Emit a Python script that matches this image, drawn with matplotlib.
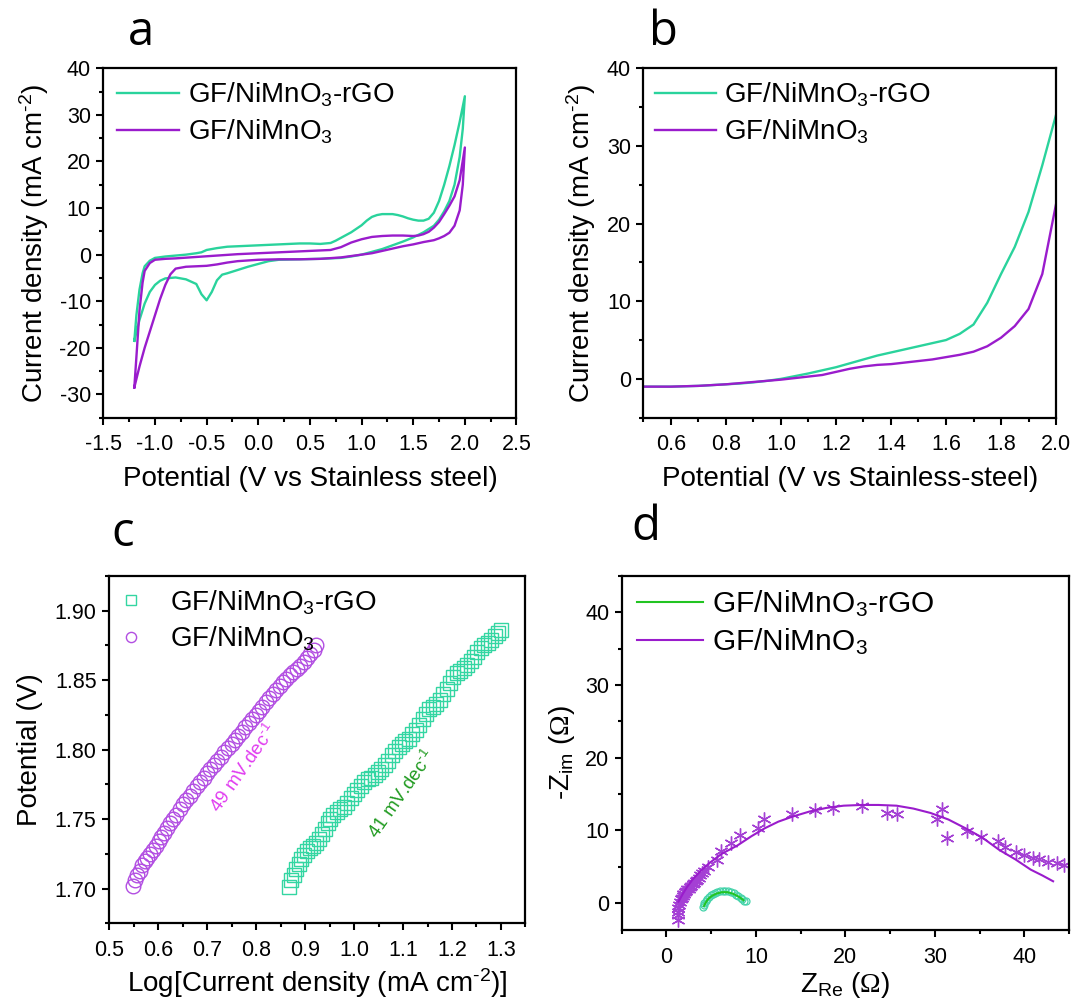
import numpy as np
import matplotlib
matplotlib.use("Agg")
import matplotlib.pyplot as plt
from matplotlib.ticker import MultipleLocator, AutoMinorLocator, FormatStrFormatter

plt.rcParams['font.family'] = ['Liberation Sans', 'DejaVu Sans']
plt.rcParams['mathtext.fontset'] = 'custom'
plt.rcParams['mathtext.rm'] = 'Liberation Sans'
plt.rcParams['mathtext.sf'] = 'Liberation Serif'
plt.rcParams['mathtext.default'] = 'regular'
plt.rcParams['axes.unicode_minus'] = False

lab_rgo = 'GF/NiMnO$_3$-rGO'
lab_nmo = 'GF/NiMnO$_3$'
cm2 = 'cm$^{\\text{-2}}$'

# (a) CV loops: anodic sweep then cathodic return
cv_rgo_x = [-1.20, -1.18, -1.15, -1.12, -1.10, -1.05, -1.00, -0.90, -0.80, -0.70, -0.60, -0.55,
            -0.50, -0.40, -0.30, -0.20, -0.10, 0.00, 0.10, 0.20, 0.30, 0.40, 0.50, 0.60, 0.70,
            0.75, 0.80, 0.90, 1.00, 1.05, 1.10, 1.15, 1.20, 1.25, 1.30, 1.35, 1.40, 1.45, 1.50,
            1.55, 1.60, 1.65, 1.70, 1.75, 1.80, 1.85, 1.90, 1.95, 2.00,
            1.98, 1.95, 1.90, 1.85, 1.80, 1.75, 1.70, 1.60, 1.50, 1.40, 1.30, 1.20, 1.10, 1.00,
            0.90, 0.80, 0.60, 0.40, 0.20, 0.10, 0.00, -0.10, -0.20, -0.30, -0.35, -0.40, -0.45,
            -0.50, -0.55, -0.60, -0.70, -0.80, -0.90, -0.95, -1.00, -1.05, -1.10, -1.15, -1.20]
cv_rgo_y = [-18.5, -13.0, -7.5, -4.0, -2.5, -1.3, -0.7, -0.4, -0.2, 0.0, 0.3, 0.5,
            1.0, 1.4, 1.7, 1.8, 1.9, 2.0, 2.1, 2.2, 2.3, 2.4, 2.4, 2.3, 2.5,
            3.0, 3.6, 4.8, 6.3, 7.3, 8.1, 8.5, 8.7, 8.7, 8.7, 8.5, 8.2, 7.8, 7.5,
            7.3, 7.3, 7.7, 9.0, 11.5, 15.0, 19.0, 23.5, 28.5, 34.0,
            27.0, 21.0, 15.0, 11.5, 9.3, 7.5, 6.2, 4.8, 3.7, 2.8, 2.0, 1.2, 0.6, 0.0,
            -0.4, -0.7, -0.9, -1.0, -1.1, -1.4, -2.0, -2.6, -3.3, -4.0, -4.3, -5.5, -8.0,
            -9.8, -8.5, -6.3, -5.3, -4.9, -5.1, -5.6, -6.5, -8.0, -10.5, -14.0, -18.5]

cv_nmo_x = [-1.20, -1.18, -1.15, -1.12, -1.10, -1.05, -1.00, -0.90, -0.80, -0.60, -0.40, -0.20,
            0.00, 0.20, 0.40, 0.60, 0.70, 0.80, 0.90, 1.00, 1.10, 1.20, 1.30, 1.40, 1.50, 1.55,
            1.60, 1.65, 1.70, 1.75, 1.80, 1.85, 1.90, 1.95, 2.00,
            1.98, 1.95, 1.90, 1.85, 1.80, 1.75, 1.70, 1.60, 1.50, 1.40, 1.30, 1.20, 1.10, 1.00,
            0.80, 0.60, 0.40, 0.20, 0.00, -0.20, -0.30, -0.40, -0.50, -0.60, -0.70, -0.80,
            -0.85, -0.90, -0.95, -1.00, -1.05, -1.10, -1.15, -1.20]
cv_nmo_y = [-28.5, -22.0, -12.0, -6.0, -3.5, -1.8, -1.1, -0.9, -0.8, -0.5, -0.2, 0.1,
            0.3, 0.5, 0.7, 0.9, 1.0, 1.6, 2.6, 3.3, 3.8, 4.0, 4.1, 4.1, 4.0, 4.1,
            4.4, 4.9, 5.8, 7.0, 8.7, 10.5, 12.5, 16.0, 23.0,
            15.0, 9.5, 6.2, 4.7, 4.0, 3.5, 3.1, 2.7, 2.2, 1.8, 1.3, 0.8, 0.3, 0.0,
            -0.6, -0.9, -1.0, -1.0, -1.1, -1.4, -1.7, -2.1, -2.4, -2.5, -2.6, -3.0,
            -4.2, -6.5, -9.5, -13.0, -16.5, -20.0, -24.0, -28.5]

# (b) LSV
lsv_x = [0.50, 0.55, 0.60, 0.65, 0.70, 0.75, 0.80, 0.85, 0.90, 0.95, 1.00, 1.05, 1.10, 1.15,
         1.20, 1.25, 1.30, 1.35, 1.40, 1.45, 1.50, 1.55, 1.60, 1.65, 1.70, 1.75, 1.80, 1.85,
         1.90, 1.95, 2.00]
lsv_rgo = [-1.0, -1.0, -1.0, -0.95, -0.9, -0.8, -0.7, -0.6, -0.45, -0.25, 0.0, 0.35, 0.7, 1.1,
           1.5, 2.0, 2.5, 3.0, 3.4, 3.8, 4.2, 4.6, 5.0, 5.8, 7.0, 9.8, 13.5, 17.0,
           21.5, 27.5, 34.0]
lsv_nmo = [-1.0, -1.0, -1.0, -0.95, -0.9, -0.8, -0.7, -0.55, -0.4, -0.25, -0.1, 0.1, 0.3, 0.5,
           0.9, 1.3, 1.6, 1.8, 1.9, 2.1, 2.3, 2.5, 2.8, 3.1, 3.5, 4.2, 5.3, 6.8,
           9.0, 13.5, 22.5]

# (c) Tafel
tafel_nmo_x = [0.548, 0.553, 0.558, 0.563, 0.568, 0.573, 0.578, 0.583, 0.589, 0.595, 0.601,
               0.607, 0.613, 0.619, 0.625, 0.631, 0.637, 0.644, 0.651, 0.658, 0.665, 0.672,
               0.679, 0.686, 0.693, 0.700, 0.707, 0.714, 0.721, 0.728, 0.735, 0.743, 0.750,
               0.757, 0.764, 0.771, 0.778, 0.785, 0.792, 0.799, 0.806, 0.813, 0.820, 0.827,
               0.834, 0.841, 0.848, 0.855, 0.862, 0.869, 0.876, 0.883, 0.890, 0.897, 0.904,
               0.911, 0.918, 0.922]
tafel_nmo_y = [1.702, 1.706, 1.710, 1.713, 1.717, 1.720, 1.722, 1.725, 1.728, 1.731, 1.734,
               1.737, 1.740, 1.744, 1.747, 1.750, 1.753, 1.757, 1.761, 1.764, 1.767, 1.770,
               1.774, 1.777, 1.780, 1.783, 1.786, 1.789, 1.792, 1.795, 1.798, 1.801, 1.804,
               1.807, 1.810, 1.813, 1.816, 1.819, 1.822, 1.825, 1.828, 1.831, 1.834, 1.837,
               1.840, 1.843, 1.846, 1.849, 1.851, 1.854, 1.856, 1.858, 1.860, 1.863, 1.866,
               1.869, 1.872, 1.875]
tafel_rgo_x = [0.867, 0.872, 0.877, 0.882, 0.887, 0.892, 0.898, 0.904, 0.910, 0.916, 0.922,
               0.928, 0.934, 0.940, 0.946, 0.952, 0.958, 0.965, 0.972, 0.979, 0.986, 0.993,
               1.000, 1.007, 1.014, 1.021, 1.028, 1.035, 1.042, 1.049, 1.056, 1.063, 1.070,
               1.077, 1.084, 1.091, 1.098, 1.105, 1.112, 1.119, 1.126, 1.133, 1.140, 1.147,
               1.154, 1.161, 1.168, 1.175, 1.182, 1.189, 1.196, 1.203, 1.210, 1.217, 1.224,
               1.231, 1.238, 1.245, 1.252, 1.259, 1.266, 1.273, 1.280, 1.287, 1.294, 1.300]
tafel_rgo_y = [1.701, 1.706, 1.710, 1.714, 1.718, 1.721, 1.724, 1.727, 1.729, 1.731, 1.733,
               1.736, 1.739, 1.743, 1.747, 1.750, 1.753, 1.755, 1.757, 1.759, 1.762, 1.765,
               1.768, 1.771, 1.774, 1.777, 1.779, 1.780, 1.782, 1.784, 1.786, 1.789, 1.792,
               1.796, 1.799, 1.802, 1.804, 1.806, 1.808, 1.811, 1.814, 1.818, 1.822, 1.826,
               1.829, 1.831, 1.833, 1.836, 1.840, 1.844, 1.848, 1.852, 1.855, 1.857, 1.859,
               1.861, 1.864, 1.867, 1.870, 1.873, 1.875, 1.877, 1.879, 1.882, 1.884, 1.886]
slope_nmo = '49 mV.dec$^{\\text{-1}}$'
slope_rgo = '41 mV.dec$^{\\text{-1}}$'

# (d) EIS: measured points and fitted arcs
eis_nmo_x = [1.3, 1.3, 1.3, 1.35, 1.4, 1.5, 1.6, 1.7, 1.8, 1.9, 2.0, 2.1, 2.2, 2.35, 2.5, 2.65,
             2.8, 3.0, 3.1, 3.3, 3.4, 3.6, 3.8, 4.0, 4.2, 4.7, 5.6, 6.05, 7.2, 8.2, 10.2, 10.9,
             14.0, 16.55, 18.6, 21.8, 24.65, 25.8, 30.25, 30.8, 31.4, 33.6, 35.2, 37.0, 37.8,
             39.1, 39.9, 41.0, 41.6, 42.6, 43.6, 44.4]
eis_nmo_y = [-2.3, -1.7, -1.2, -0.7, -0.2, 0.2, 0.5, 0.7, 1.0, 1.2, 1.3, 1.5, 1.7, 1.9, 2.0, 2.2,
             2.4, 2.6, 2.8, 3.0, 3.2, 3.5, 3.8, 4.1, 4.4, 5.0, 5.9, 7.2, 8.3, 9.3, 10.35, 11.5,
             12.2, 12.8, 13.1, 13.3, 12.45, 12.2, 11.6, 12.9, 8.9, 9.9, 9.1, 8.6, 7.7,
             7.05, 6.6, 6.2, 6.0, 5.7, 5.45, 5.3]
fit_nmo_x = [1.35, 1.8, 2.3, 2.9, 3.8, 4.8, 6.2, 7.9, 9.5, 11.0, 12.5, 14.1, 16.0, 17.9, 19.8,
             21.8, 23.7, 25.7, 27.6, 29.5, 31.5, 33.4, 35.3, 37.2, 39.0, 40.7, 42.0, 43.2]
fit_nmo_y = [0.2, 1.2, 2.2, 3.2, 4.4, 5.5, 6.8, 7.9, 9.2, 10.3, 11.2, 11.9, 12.6, 13.1, 13.4,
             13.5, 13.5, 13.4, 13.0, 12.4, 11.5, 10.3, 9.0, 7.3, 6.0, 4.6, 3.8, 3.0]
eis_rgo_x = [4.1, 4.15, 4.25, 4.4, 4.55, 4.75, 4.95, 5.2, 5.45, 5.7, 6.0, 6.3, 6.6, 6.9, 7.2,
             7.5, 7.8, 8.05, 8.3, 8.5, 8.7, 8.85]
eis_rgo_y = [-0.6, -0.3, 0.0, 0.3, 0.6, 0.85, 1.05, 1.25, 1.4, 1.5, 1.6, 1.65, 1.65, 1.6, 1.5,
             1.35, 1.15, 0.95, 0.75, 0.55, 0.35, 0.25]
fit_rgo_x = [4.2, 4.4, 4.7, 5.1, 5.6, 6.2, 6.8, 7.4, 7.9, 8.3, 8.6]
fit_rgo_y = [-0.4, 0.1, 0.6, 1.0, 1.3, 1.5, 1.5, 1.3, 1.0, 0.7, 0.4]

GREEN = '#2ad39c'
PURPLE = '#9a1ccc'
TICK_FS = 15.5
LABEL_FS = 20


def style_axes(ax, xmaj, ymaj, xfmt, yfmt):
    for s in ax.spines.values():
        s.set_linewidth(1.6)
    ax.xaxis.set_major_locator(MultipleLocator(xmaj))
    ax.yaxis.set_major_locator(MultipleLocator(ymaj))
    ax.xaxis.set_minor_locator(AutoMinorLocator(2))
    ax.yaxis.set_minor_locator(AutoMinorLocator(2))
    ax.xaxis.set_major_formatter(FormatStrFormatter(xfmt))
    ax.yaxis.set_major_formatter(FormatStrFormatter(yfmt))
    ax.tick_params(which='both', direction='out', width=1.5, top=False, right=False)
    ax.tick_params(which='major', length=5)
    ax.tick_params(which='minor', length=3)
    ax.tick_params(axis='x', labelsize=TICK_FS, pad=7)
    ax.tick_params(axis='y', labelsize=TICK_FS, pad=4)


fig = plt.figure(figsize=(10.72, 10.07), dpi=100)

# ---- a ----
ax = fig.add_axes([0.0964, 0.5852, 0.3854, 0.3470])
ax.plot(cv_rgo_x, cv_rgo_y, color=GREEN, lw=1.7, label=lab_rgo)
ax.plot(cv_nmo_x, cv_nmo_y, color=PURPLE, lw=1.7, label=lab_nmo)
ax.set_xlim(-1.5, 2.5)
ax.set_ylim(-35, 40)
style_axes(ax, 0.5, 10, '%.1f', '%d')
ax.set_xlabel('Potential (V vs Stainless steel)', fontsize=LABEL_FS, labelpad=8)
ax.set_ylabel('Current density (mA ' + cm2 + ')', fontsize=LABEL_FS, labelpad=6)
ax.legend(loc='upper left', bbox_to_anchor=(0.033, 0.965), frameon=False, fontsize=20,
          handlelength=2.25, handletextpad=0.3, labelspacing=0.3, borderpad=0, borderaxespad=0)

# ---- b ----
ax = fig.add_axes([0.6002, 0.5852, 0.3849, 0.3470])
ax.plot(lsv_x, lsv_rgo, color=GREEN, lw=1.7, label=lab_rgo)
ax.plot(lsv_x, lsv_nmo, color=PURPLE, lw=1.7, label=lab_nmo)
ax.set_xlim(0.5, 2.0)
ax.set_ylim(-5, 40)
style_axes(ax, 0.2, 10, '%.1f', '%d')
ax.set_xlabel('Potential (V vs Stainless-steel)', fontsize=LABEL_FS, labelpad=8)
ax.set_ylabel('Current density (mA ' + cm2 + ')', fontsize=LABEL_FS, labelpad=6)
ax.legend(loc='upper left', bbox_to_anchor=(0.027, 0.965), frameon=False, fontsize=20,
          handlelength=2.2, handletextpad=0.3, labelspacing=0.3, borderpad=0, borderaxespad=0)

# ---- c ----
ax = fig.add_axes([0.1017, 0.0830, 0.3885, 0.3450])
ax.plot(tafel_rgo_x, tafel_rgo_y, ls='none', marker='s', ms=10, mfc='none',
        mec='#33d6a2', mew=1.0, label=lab_rgo)
ax.plot(tafel_nmo_x, tafel_nmo_y, ls='none', marker='o', ms=10.5, mfc='none',
        mec='#b24ee2', mew=1.0, label=lab_nmo)
ax.text(0.775, 1.787, slope_nmo, rotation=55, color='#e03cf0', fontsize=13.5,
        ha='center', va='center', rotation_mode='anchor')
ax.text(1.098, 1.768, slope_rgo, rotation=55, color='#1f9a1f', fontsize=13.5,
        ha='center', va='center', rotation_mode='anchor')
ax.set_xlim(0.5, 1.35)
ax.set_ylim(1.675, 1.925)
style_axes(ax, 0.1, 0.05, '%.1f', '%.2f')
ax.set_xlabel('Log[Current density (mA ' + cm2 + ')]', fontsize=LABEL_FS, labelpad=4)
ax.set_ylabel('Potential (V)', fontsize=LABEL_FS, labelpad=8)
ax.legend(loc='upper left', bbox_to_anchor=(0.02, 0.965), frameon=False, fontsize=20,
          markerscale=0.7, handlelength=1.0, handletextpad=0.9, labelspacing=0.3,
          borderpad=0, borderaxespad=0)

# ---- d ----
ax = fig.add_axes([0.5799, 0.0765, 0.4175, 0.3515])
ax.plot(eis_rgo_x, eis_rgo_y, ls='none', marker='o', ms=5, mfc='none', mec='#45d3aa', mew=0.9)
ax.plot(fit_rgo_x, fit_rgo_y, color='#22c422', lw=1.5, label=lab_rgo)
ax.plot(eis_nmo_x, eis_nmo_y, ls='none', marker=(6, 2, 0), ms=10, mec='#a440d4', mew=1.0)
ax.plot(fit_nmo_x, fit_nmo_y, color=PURPLE, lw=1.5, label=lab_nmo)
ax.set_xlim(-5, 45)
ax.set_ylim(-3.7, 45)
style_axes(ax, 10, 10, '%d', '%d')
ax.set_xlabel('Z$_{Re}$ ($\\mathsf{\\Omega}$)', fontsize=LABEL_FS, labelpad=2)
ax.set_ylabel('-Z$_{im}$ ($\\mathsf{\\Omega}$)', fontsize=LABEL_FS, labelpad=6)
ax.legend(loc='upper left', bbox_to_anchor=(0.034, 0.965), frameon=False, fontsize=21.5,
          handlelength=2.2, handletextpad=0.3, labelspacing=0.25, borderpad=0, borderaxespad=0)

# panel letters
for x, y, s in [(0.1315, 0.968, 'a'), (0.6185, 0.968, 'b'), (0.114, 0.4707, 'c'), (0.6026, 0.4767, 'd')]:
    fig.text(x, y, s, fontsize=34, family='Open Sans', ha='center', va='center')

fig.savefig('out.png', dpi=100)
